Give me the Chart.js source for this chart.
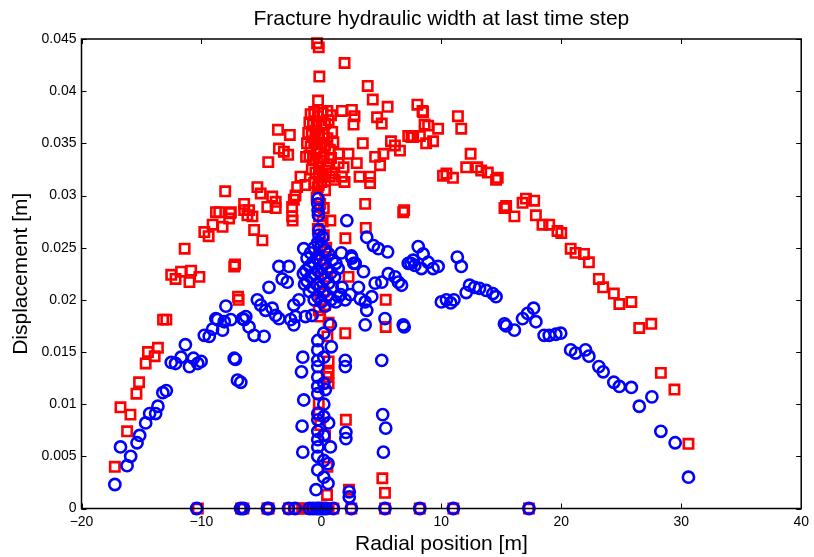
<!DOCTYPE html>
<html>
<head>
<meta charset="utf-8">
<script src="https://cdn.jsdelivr.net/npm/chart.js@4/dist/chart.umd.min.js"></script>
<style>
  body { margin: 0; background: #fff; }
</style>
</head>
<body>
<canvas id="widthChart" width="814" height="557"></canvas>
<script>
// ticks
const xTicks = [-20, -10, 0, 10, 20, 30, 40]
const yTicks = [0, 0.005, 0.01, 0.015, 0.02, 0.025, 0.03, 0.035, 0.04, 0.045]

// blue circles (x, y)
const blueX = [
  -17.22, -16.75, -16.2, -15.9, -15.37, -15.15, -14.65, -14.32, -13.82, -13.63, -13.22, -12.93,
  -12.52, -12.16, -11.7, -11.34, -11.0, -10.67, -10.31, -10.03, -9.76, -9.35, -9.07, -8.66,
  -8.24, -7.96, -7.55, -8.1, -8.8, -7.27, -7.17, -7.0, -6.72, -6.44, -6.3, -6.58, -6.03, -5.61,
  -4.78, -5.34, -5.06, -4.65, -4.1, -3.81, -3.54, -4.37, -3.54, -2.71, -3.27, -2.85, -2.3, -1.88,
  -2.16, -2.57, -2.3, -1.33, -0.78, -1.47,
  -0.28, -0.3, -0.28, -0.25, -0.2,
  -1.2, -0.9, -0.6, -0.3, 0.0, 0.3, 0.6, 0.9, 1.2,
  -1.3, -1.0, -0.7, -0.4, -0.1, 0.2, 0.5, 0.8, 1.1,
  -1.2, -0.9, -0.6, -0.3, 0.0, 0.3, 0.6, 0.9,
  -1.0, -0.7, -0.4, -0.1, 0.2, 0.5, 0.8, 1.2,
  -0.6, -0.3, 0.0, 0.3, -1.4, 1.4, 1.6, -0.2, 0.1, -1.5, 1.66, 2.5, 2.7,
  2.12, 3.78, 4.34, 4.75, 5.52, 7.46, 2.54, 2.82, 3.51, 3.09, 3.23, 3.65, 3.78, 4.2, 4.48, 5.03,
  5.58, 6.14, 6.41, 6.68, 7.24, 7.79, 8.34, 8.07, 8.48, 8.9, 9.31, 9.73, 7.65, 1.71, 1.43, 1.99,
  2.4, 3.65, 5.3, 6.82, 6.9,
  11.33, 11.66, 10.0, 10.42, 10.78, 11.05, 12.07, 12.35, 12.77, 13.18, 13.73, 14.29, 14.56,
  15.26, 15.4, 16.09, 16.77, 17.19, 17.69, 17.88, 18.57, 18.99, 19.54, 19.95, 20.78, 21.19,
  22.02, 22.3, 23.13, 23.49, 24.38, 24.84, 25.84, 26.5, 27.55, 28.3, 29.49, 30.6,
  -1.55, -1.66, -1.47, -1.61, -1.55, -0.45, 0.55, 0.55, 0.75, 0.6, 0.33, 0.83, 0.75,
  -0.3, -0.3, -0.3, -0.3, -0.3, -0.3, -0.3, -0.3, -0.3, -0.3, -0.3, -0.3, -0.3, -0.3,
  0.2, 0.2, 0.2, 0.2, 0.2, 0.2, 0.2, 0.2,
  1.99, 1.99, 2.04, 2.04, 2.32, 2.32, 5.03, 5.11, 5.36, 5.17,
  -10.4, -6.74, -6.5, -4.5, -4.4, -2.74, -2.2, -1.0, -0.7, -0.4, -0.2, 0.0, 0.2, 0.4, 1.0,
  2.5, 5.3, 8.2, 11.0, 17.3
]
const blueY = [
  0.0023, 0.0059, 0.0041, 0.0050, 0.0063, 0.0070, 0.0082, 0.0091, 0.0091, 0.0098, 0.0111, 0.0113,
  0.0140, 0.0139, 0.0145, 0.0157, 0.0136, 0.0144, 0.0139, 0.0141, 0.0166, 0.0165, 0.0172, 0.0181,
  0.0171, 0.0194, 0.0181, 0.0179, 0.0182, 0.0144, 0.0143, 0.0123, 0.0121, 0.0181, 0.0184, 0.0182, 0.0174, 0.0166,
  0.0165, 0.0200, 0.0195, 0.0190, 0.0192, 0.0185, 0.0182, 0.0212, 0.0232, 0.0232, 0.0220, 0.0217, 0.0195, 0.0200,
  0.0184, 0.0181, 0.0176, 0.0184, 0.0185, 0.0249,
  0.0297, 0.0292, 0.0286, 0.0281, 0.0267,
  0.0240, 0.0245, 0.0250, 0.0255, 0.0252, 0.0248, 0.0244, 0.0238, 0.0235,
  0.0228, 0.0232, 0.0236, 0.0240, 0.0238, 0.0235, 0.0230, 0.0226, 0.0222,
  0.0218, 0.0222, 0.0225, 0.0228, 0.0225, 0.0220, 0.0216, 0.0212,
  0.0208, 0.0212, 0.0215, 0.0212, 0.0208, 0.0204, 0.0200, 0.0198,
  0.0200, 0.0203, 0.0198, 0.0194, 0.0215, 0.0230, 0.0205, 0.0262, 0.0260, 0.0225, 0.0245, 0.0242, 0.0235,
  0.0276, 0.0260, 0.0252, 0.0249, 0.0246, 0.0235, 0.0240, 0.0235, 0.0227, 0.0212, 0.0201, 0.0198, 0.0190, 0.0203, 0.0216, 0.0217,
  0.0225, 0.0222, 0.0217, 0.0214, 0.0235, 0.0233, 0.0230, 0.0251, 0.0244, 0.0236, 0.0230, 0.0232, 0.0238, 0.0212, 0.0203, 0.0200,
  0.0205, 0.0176, 0.0182, 0.0176, 0.0174,
  0.0241, 0.0232, 0.0198, 0.0200, 0.0197, 0.0200, 0.0207, 0.0214, 0.0212, 0.0211, 0.0209, 0.0206, 0.0203,
  0.0177, 0.0175, 0.0171, 0.0182, 0.0187, 0.0192, 0.0179, 0.0166, 0.0166, 0.0167, 0.0168, 0.0152, 0.0149,
  0.0152, 0.0146, 0.0136, 0.0131, 0.0121, 0.0117, 0.0116, 0.0098, 0.0107, 0.0074, 0.0063, 0.0030,
  0.0145, 0.0131, 0.0104, 0.0079, 0.0054, 0.0018, 0.0024, 0.0043, 0.0059, 0.0082, 0.0114, 0.0155, 0.0176,
  0.0161, 0.0152, 0.0142, 0.0136, 0.0126, 0.0117, 0.0110, 0.0091, 0.0085, 0.0074, 0.0066, 0.0059, 0.0050, 0.0037,
  0.0168, 0.0145, 0.0120, 0.0100, 0.0088, 0.0070, 0.0046, 0.0030,
  0.0142, 0.0136, 0.0073, 0.0067, 0.0016, 0.0011, 0.0142, 0.0090, 0.0077, 0.0054,
  0, 0, 0, 0, 0, 0, 0, 0, 0, 0, 0, 0, 0, 0, 0,
  0, 0, 0, 0, 0
]

// red squares (x, y)
const redX = [
  -17.22, -16.2, -16.75, -15.92, -15.42, -15.2, -14.65, -14.46, -13.9, -13.63, -13.2, -12.93,
  -12.52, -12.16, -11.7, -10.86, -11.0, -10.17, -11.4, -7.27, -7.2, -6.9, -6.95,
  -8.02, -8.79, -8.52, -7.6, -8.24, -9.07, -9.76, -9.4, -7.69, -6.44, -6.17,
  -5.34, -5.06, -4.1, -3.81, -4.51, -3.81, -6.44, -6.03, -5.75, -7.55, -5.61, -4.92,
  -2.44, -2.44, -2.4, -2.02, -2.16, -2.3, -1.74, -1.33, -1.28, -4.43, -3.62, -2.63, -3.54, -3.13, -2.77,
  -0.36, -0.22, -0.17, -0.28,
  -0.9, -0.6, -0.3, 0.1, 0.5, 0.8,
  -1.0, -0.7, -0.4, 0.0, 0.3, 0.6,
  -1.1, -0.8, -0.5, -0.2, 0.2, 0.5, 0.9,
  -1.2, -0.9, -0.6, -0.3, 0.0, 0.3, 0.7, 1.0,
  -1.0, -0.7, -0.4, -0.1, 0.2, 0.5, 0.8,
  -0.8, -0.5, -0.2, 0.1, 0.4, 0.7,
  -0.6, -0.3, 0.0, 0.3,
  -0.4, -0.1, 0.2,
  1.93, 3.86, 4.28, 5.52, 4.64, 5.03, 8.0, 8.43, 2.54, 2.76, 2.68, 1.71, 3.45, 1.43, 2.26, 2.95,
  1.43, 1.85, 4.48, 5.17, 4.89, 3.18, 4.06, 4.06, 5.8, 6.13, 6.55, 7.24, 7.65, 8.21, 8.73,
  0.88, 1.1, 1.71, 1.93, -0.22, -0.22, 3.65, 6.82, 6.9, 0.75, 2.0, 3.7,
  8.48, 11.38, 11.66, 8.9, 9.73, 8.6, 7.51, 9.31, 12.44, 12.07, 12.99, 13.32, 13.87, 14.56, 14.7,
  10.14, 10.42, 10.97, 15.26, 15.4, 16.09, 17.05, 16.77, 17.74, 17.88, 18.43, 18.99, 19.68, 20.0,
  20.78, 21.19, 21.89, 22.3, 23.13, 23.49, 24.38, 24.84, 25.84, 26.5, 27.5, 28.3, 29.43, 30.6,
  -0.2, 0.1, -0.3, 0.2, -0.1, 0.4, -0.2, 0.3, 0.0, 0.5, -0.2, 0.2, -0.1, 0.3, -0.22, -0.1,
  0.6, 0.5, 0.6, 0.6, 0.6, 0.45, -0.22, -0.22, -0.1, 0.3, 0.47, 0.5,
  2.26, 5.36, 5.36, 1.99, 2.04, 5.08, 5.3, 2.3,
  -10.3, -6.7, -6.5, -4.5, -4.4, -2.7, -2.3, -2.0, -1.6, -1.2, -0.9, -0.6, -0.3, 0.0, 0.3, 0.6,
  1.0, 2.5, 5.3, 8.2, 11.0, 17.3
]
const redY = [
  0.0040, 0.0074, 0.0097, 0.0090, 0.0110, 0.0121, 0.0139, 0.0150, 0.0146, 0.0154, 0.0181, 0.0181,
  0.0224, 0.0220, 0.0227, 0.0228, 0.0217, 0.0222, 0.0249, 0.0232, 0.0234, 0.0200, 0.0203,
  0.0304, 0.0284, 0.0284, 0.0283, 0.0270, 0.0272, 0.0265, 0.0261, 0.0278, 0.0286, 0.0281,
  0.0308, 0.0302, 0.0299, 0.0294, 0.0289, 0.0288, 0.0292, 0.0286, 0.0280, 0.0284, 0.0267, 0.0257,
  0.0289, 0.0280, 0.0276, 0.0308, 0.0300, 0.0296, 0.0318, 0.0310, 0.0337, 0.0332, 0.0363, 0.0358, 0.0345, 0.0342, 0.0339,
  0.0446, 0.0442, 0.0414, 0.0391,
  0.0378, 0.0380, 0.0376, 0.0379, 0.0381, 0.0377,
  0.0370, 0.0368, 0.0371, 0.0367, 0.0369, 0.0372,
  0.0360, 0.0358, 0.0362, 0.0356, 0.0359, 0.0355, 0.0361,
  0.0350, 0.0347, 0.0352, 0.0345, 0.0350, 0.0348, 0.0344, 0.0351,
  0.0338, 0.0335, 0.0340, 0.0333, 0.0337, 0.0330, 0.0336,
  0.0325, 0.0322, 0.0327, 0.0320, 0.0324, 0.0318,
  0.0312, 0.0308, 0.0313, 0.0305,
  0.0298, 0.0292, 0.0288,
  0.0427, 0.0405, 0.0392, 0.0385, 0.0375, 0.0369, 0.0387, 0.0381, 0.0382, 0.0376, 0.0368, 0.0381, 0.0350, 0.0340, 0.0340, 0.0331,
  0.0331, 0.0327, 0.0337, 0.0340, 0.0329, 0.0318, 0.0318, 0.0312, 0.0352, 0.0348, 0.0343, 0.0357, 0.0356, 0.0357, 0.0350,
  0.0321, 0.0315, 0.0318, 0.0313, 0.0318, 0.0310, 0.0292, 0.0284, 0.0286, 0.0276, 0.0259, 0.0269,
  0.0380, 0.0376, 0.0364, 0.0367, 0.0364, 0.0368, 0.0356, 0.0352, 0.0340, 0.0327, 0.0327, 0.0324, 0.0322, 0.0315, 0.0317,
  0.0319, 0.0321, 0.0317, 0.0288, 0.0290, 0.0280, 0.0297, 0.0293, 0.0295, 0.0281, 0.0272, 0.0272, 0.0266, 0.0264,
  0.0249, 0.0245, 0.0244, 0.0236, 0.0220, 0.0212, 0.0206, 0.0196, 0.0198, 0.0173, 0.0177, 0.0130, 0.0114, 0.0062,
  0.0280, 0.0275, 0.0268, 0.0262, 0.0255, 0.0250, 0.0243, 0.0238, 0.0230, 0.0222, 0.0215, 0.0208, 0.0200, 0.0195, 0.0190, 0.0184,
  0.0178, 0.0165, 0.0141, 0.0130, 0.0120, 0.0126, 0.0101, 0.0091, 0.0080, 0.0070, 0.0013, 0.0040,
  0.0222, 0.0200, 0.0174, 0.0168, 0.0085, 0.0029, 0.0015, 0.0018,
  0, 0, 0, 0, 0, 0, 0, 0, 0, 0, 0, 0, 0, 0, 0, 0,
  0, 0, 0, 0, 0, 0
]

const toPoints = (xs, ys) => xs.map((x, i) => ({ x: x, y: ys[i] }))

const fontFamily = "'Liberation Sans', Arial, Helvetica, sans-serif"

/*===== box and inward ticks, matlab style =====*/
const axesBox = {
    id: 'axesBox',
    afterDatasetsDraw(chart) {
        const { ctx, chartArea: a, scales: { x, y } } = chart
        const len = 5
        ctx.save()
        ctx.strokeStyle = '#000'
        ctx.lineWidth = 1
        ctx.beginPath()
        xTicks.forEach(v => {
            const px = Math.round(x.getPixelForValue(v)) + 0.5
            ctx.moveTo(px, a.bottom); ctx.lineTo(px, a.bottom - len)
            ctx.moveTo(px, a.top); ctx.lineTo(px, a.top + len)
        })
        yTicks.forEach(v => {
            const py = Math.round(y.getPixelForValue(v)) + 0.5
            ctx.moveTo(a.left, py); ctx.lineTo(a.left + len, py)
            ctx.moveTo(a.right, py); ctx.lineTo(a.right - len, py)
        })
        ctx.stroke()
        ctx.lineWidth = 1.5
        ctx.strokeRect(a.left, a.top, a.right - a.left, a.bottom - a.top)
        ctx.restore()
    }
}

const ctx = document.getElementById('widthChart').getContext('2d')
const widthChart = new Chart(ctx, {
    type: 'scatter',
    data: {
        datasets: [{
            label: 'circles',
            data: toPoints(blueX, blueY),
            pointStyle: 'circle',
            pointRadius: 5.6,
            borderWidth: 2.6,
            borderColor: 'rgb(0, 0, 255)',
            backgroundColor: 'rgba(0, 0, 0, 0)',
            clip: false
        }, {
            label: 'squares',
            data: toPoints(redX, redY),
            pointStyle: 'rect',
            pointRadius: 6.6,
            borderWidth: 2.6,
            borderColor: 'rgb(255, 0, 0)',
            backgroundColor: 'rgba(0, 0, 0, 0)',
            clip: false
        }]
    },
    options: {
        responsive: false,
        animation: false,
        events: [],
        layout: { padding: { left: 0, right: 9, top: 0, bottom: 0 } },
        plugins: {
            legend: { display: false },
            tooltip: { enabled: false },
            title: {
                display: true,
                fullSize: false,
                text: 'Fracture hydraulic width at last time step',
                color: '#000',
                font: { family: fontFamily, size: 21, weight: 'normal', lineHeight: 1.2 },
                padding: { top: 6.8, bottom: 7 }
            }
        },
        scales: {
            x: {
                type: 'linear',
                min: -20,
                max: 40,
                afterBuildTicks: s => { s.ticks = xTicks.map(v => ({ value: v })) },
                afterFit: s => { s.height = 48.5 },
                grid: { display: false, drawTicks: false },
                border: { display: false },
                ticks: {
                    color: '#000',
                    padding: 5,
                    maxRotation: 0,
                    font: { family: fontFamily, size: 14 },
                    callback: v => String(v).replace('-', '\u2212')
                },
                title: {
                    display: true,
                    text: 'Radial position [m]',
                    color: '#000',
                    font: { family: fontFamily, size: 21 },
                    padding: { top: 0, bottom: 0 }
                }
            },
            y: {
                type: 'linear',
                min: 0,
                max: 0.045,
                afterBuildTicks: s => { s.ticks = yTicks.map(v => ({ value: v })) },
                afterFit: s => { s.width = 81.5 },
                grid: { display: false, drawTicks: false },
                border: { display: false },
                ticks: {
                    color: '#000',
                    padding: 5,
                    font: { family: fontFamily, size: 14 },
                    callback: v => String(+v.toFixed(3))
                },
                title: {
                    display: true,
                    text: 'Displacement [m]',
                    color: '#000',
                    font: { family: fontFamily, size: 21 },
                    padding: { top: 8.4, bottom: 0 }
                }
            }
        }
    },
    plugins: [axesBox]
})
</script>
</body>
</html>
